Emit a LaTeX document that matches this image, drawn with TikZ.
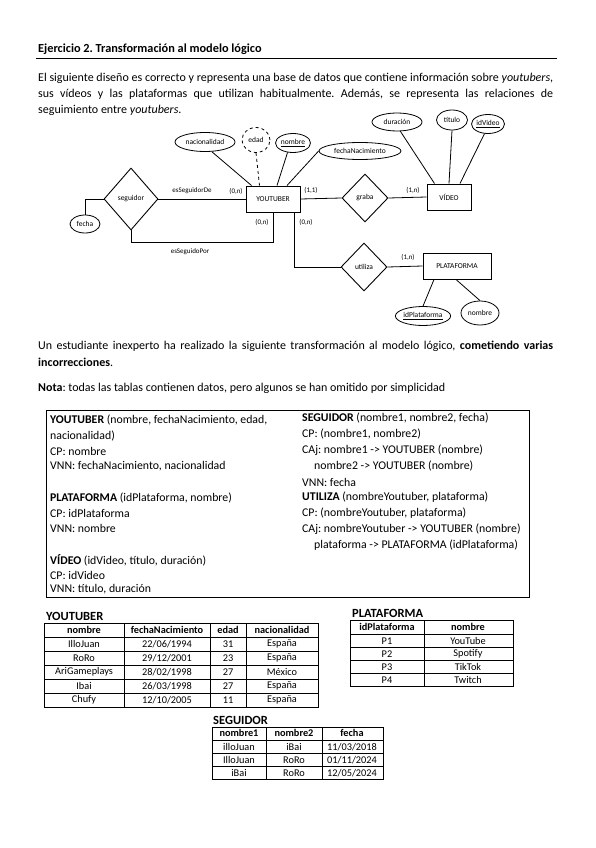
\documentclass[tikz,border=0pt]{standalone}
\usepackage{fontspec}
\setmainfont{Carlito}
\usetikzlibrary{shapes.geometric,calc}
\frenchspacing
\begin{document}
\frenchspacing
\begin{tikzpicture}[x=1pt,y=-1pt,
  txt/.style={anchor=west,inner sep=0pt,font=\fontsize{12}{14}\selectfont},
  btxt/.style={anchor=west,inner sep=0pt,font=\fontsize{11.8}{14}\selectfont},
  er/.style={font=\fontsize{7.5}{9}\selectfont},
  ent/.style={er,draw,line width=1pt,inner sep=0pt},
  rel/.style={er,draw,diamond,aspect=1,inner sep=0pt,line width=0.9pt},
  attr/.style={er,draw,ellipse,inner sep=0pt,line width=0.8pt},
  lbl/.style={font=\fontsize{7}{8}\selectfont,inner sep=0pt},
  conn/.style={line width=0.8pt},
  cell/.style={font=\fontsize{10.3}{12}\selectfont,inner sep=0pt},
  head/.style={font=\fontsize{10.3}{12}\selectfont\bfseries,inner sep=0pt},
  tlabel/.style={anchor=west,inner sep=0pt,font=\fontsize{12.5}{14}\selectfont\bfseries},
  gridline/.style={line width=0.6pt}]
\useasboundingbox (0,0) rectangle (595,848);
\fill[white] (0,0) rectangle (595,848);

% ---- title and intro
\node[txt,font=\fontsize{12.3}{14}\selectfont\bfseries] (title) at (38,49) {Ejercicio 2. Transformación al modelo lógico};
\draw[line width=0.9pt] (36,58) -- (557,58);
\node[txt] (p1) at (38,78) {\makebox[515pt][s]{El siguiente diseño es correcto y representa una base de datos que contiene información sobre \textit{youtubers},}};
\node[txt] (p2) at (38,94) {\makebox[515pt][s]{sus vídeos y las plataformas que utilizan habitualmente. Además, se representa las relaciones de}};
\node[txt] (p3) at (38,110) {seguimiento entre \textit{youtubers}.};

% ---- ER diagram
\node[ent,minimum width=54pt,minimum height=26pt] (yt) at (273,199) {YOUTUBER};
\node[ent,minimum width=44pt,minimum height=26pt] (vid) at (449,197) {VÍDEO};
\node[ent,minimum width=68pt,minimum height=26pt] (plat) at (457,266) {PLATAFORMA};
\node[rel,minimum width=54pt,minimum height=62pt] (seg) at (131,199) {seguidor};
\node[rel,minimum width=46pt,minimum height=48pt] (graba) at (365,198) {graba};
\node[rel,minimum width=46pt,minimum height=48pt] (util) at (364,267) {utiliza};

\node[attr,minimum width=30pt,minimum height=18pt] (fecha) at (85,224) {fecha};
\node[attr,minimum width=60pt,minimum height=19pt] (nac) at (205,142) {nacionalidad};
\node[attr,dashed,minimum width=28pt,minimum height=25pt] (edad) at (256,140) {edad};
\node[attr,minimum width=35pt,minimum height=19pt] (nom) at (293,143) {\underline{nombre}};
\node[attr,minimum width=82pt,minimum height=17pt] (fnac) at (360,151) {fechaNacimiento};
\node[attr,minimum width=50pt,minimum height=18pt] (dur) at (397,122) {duración};
\node[attr,minimum width=31pt,minimum height=20pt] (tit) at (452,120) {título};
\node[attr,minimum width=33pt,minimum height=19pt] (idv) at (488,124) {\underline{idVideo}};
\node[attr,minimum width=52pt,minimum height=19pt] (idp) at (423,316) {\underline{idPlataforma}};
\node[attr,minimum width=38pt,minimum height=24pt] (pnom) at (480,313) {nombre};

\draw[conn] (fecha.north) |- (seg.west);
\draw[conn] (seg.east) -- (yt.west);
\draw[conn] (seg.south) |- (273,242) -- (yt.south);
\draw[conn] ($(yt.south east)+(-6,0)$) |- (util.west);
\draw[conn] (yt.east) -- (graba.west);
\draw[conn] (graba.east) -- (vid.west);
\draw[conn] (util.east) -- (plat.west);
\draw[conn] (nac.-55) -- ($(yt.north west)+(6,0)$);
\draw[conn,dashed] (edad.south) -- ($(yt.north west)+(14,0)$);
\draw[conn] (nom.-120) -- ($(yt.north)+(4,0)$);
\draw[conn] (fnac.west) -- ($(yt.north)+(14,0)$);
\draw[conn] (dur.-70) -- ($(vid.north west)+(8,0)$);
\draw[conn] (tit.south) -- ($(vid.north)+(0,0)$);
\draw[conn] (idv.-110) -- ($(vid.north)+(11,0)$);
\draw[conn] ($(plat.south)+(-23,0)$) -- (idp.north);
\draw[conn] ($(plat.south)+(-1,0)$) -- (pnom.north);

\node[lbl] (l1) at (192,191) {esSeguidorDe};
\node[lbl] (l2) at (236,191) {(0,n)};
\node[lbl] (l3) at (311,190) {(1,1)};
\node[lbl] (l4) at (413,190) {(1,n)};
\node[lbl] (l5) at (262,222) {(0,n)};
\node[lbl] (l6) at (306,222) {(0,n)};
\node[lbl] (l7) at (190,252) {esSeguidoPor};
\node[lbl] (l8) at (408,257) {(1,n)};

% ---- second text
\node[txt] (q1) at (38,346) {\makebox[515pt][s]{Un estudiante inexperto ha realizado la siguiente transformación al modelo lógico, \textbf{cometiendo varias}}};
\node[txt] (q2) at (38,362) {\textbf{incorrecciones}.};
\node[txt] (q3) at (38,388) {\textbf{Nota}: todas las tablas contienen datos, pero algunos se han omitido por simplicidad};

% ---- logical model box
\draw[line width=0.9pt] (46,410) rectangle (529,597);
\node[btxt] (a1) at (50,420) {\textbf{YOUTUBER} (nombre, fechaNacimiento, edad,};
\node[btxt] (a2) at (50,436) {nacionalidad)};
\node[btxt] (a3) at (50,451) {CP: nombre};
\node[btxt] (a4) at (50,466) {VNN: fechaNacimiento, nacionalidad};
\node[btxt] (b1) at (50,498) {\textbf{PLATAFORMA} (idPlataforma, nombre)};
\node[btxt] (b2) at (50,513) {CP: idPlataforma};
\node[btxt] (b3) at (50,528) {VNN: nombre};
\node[btxt] (c1) at (50,560) {\textbf{VÍDEO} (idVideo, título, duración)};
\node[btxt] (c2) at (50,575) {CP: idVideo};
\node[btxt] (c3) at (50,589) {VNN: título, duración};

\node[btxt] (d1) at (302,418) {\textbf{SEGUIDOR} (nombre1, nombre2, fecha)};
\node[btxt] (d2) at (302,434) {CP: (nombre1, nombre2)};
\node[btxt] (d3) at (302,450) {CAj: nombre1 -> YOUTUBER (nombre)};
\node[btxt] (d4) at (314,466) {nombre2 -> YOUTUBER (nombre)};
\node[btxt] (d5) at (302,482) {VNN: fecha};
\node[btxt] (e1) at (302,497) {\textbf{UTILIZA} (nombreYoutuber, plataforma)};
\node[btxt] (e2) at (302,513) {CP: (nombreYoutuber, plataforma)};
\node[btxt] (e3) at (302,529) {CAj: nombreYoutuber -> YOUTUBER (nombre)};
\node[btxt] (e4) at (314,545) {plataforma -> PLATAFORMA (idPlataforma)};

% ---- YOUTUBER table
\node[tlabel] (tyt) at (46,616) {YOUTUBER};
\draw[gridline] (44,623) rectangle (318,707);
\foreach \yy in {637,651,665,679,693} \draw[gridline] (44,\yy) -- (318,\yy);
\foreach \xx in {124,210,246} \draw[gridline] (\xx,623) -- (\xx,707);
\node[head] (yh1) at (84,630) {nombre};
\node[head] (yh2) at (167,630) {fechaNacimiento};
\node[head] (yh3) at (228,630) {edad};
\node[head] (yh4) at (282,630) {nacionalidad};
\node[cell] (y11) at (84,644) {IlloJuan};
\node[cell] (y12) at (167,644) {22/06/1994};
\node[cell] (y13) at (228,644) {31};
\node[cell] (y14) at (282,644) {España};
\node[cell] (y21) at (84,658) {RoRo};
\node[cell] (y22) at (167,658) {29/12/2001};
\node[cell] (y23) at (228,658) {23};
\node[cell] (y24) at (282,658) {España};
\node[cell] (y31) at (84,672) {AriGameplays};
\node[cell] (y32) at (167,672) {28/02/1998};
\node[cell] (y33) at (228,672) {27};
\node[cell] (y34) at (282,672) {México};
\node[cell] (y41) at (84,686) {Ibai};
\node[cell] (y42) at (167,686) {26/03/1998};
\node[cell] (y43) at (228,686) {27};
\node[cell] (y44) at (282,686) {España};
\node[cell] (y51) at (84,700) {Chufy};
\node[cell] (y52) at (167,700) {12/10/2005};
\node[cell] (y53) at (228,700) {11};
\node[cell] (y54) at (282,700) {España};

% ---- PLATAFORMA table
\node[tlabel] (tpl) at (352,613) {PLATAFORMA};
\draw[gridline] (350,620) rectangle (513,686);
\foreach \yy in {634,647,660,673} \draw[gridline] (350,\yy) -- (513,\yy);
\draw[gridline] (424,620) -- (424,686);
\node[head] (ph1) at (387,627) {idPlataforma};
\node[head] (ph2) at (468,627) {nombre};
\node[cell] (p11) at (387,641) {P1};
\node[cell] (p12) at (468,641) {YouTube};
\node[cell] (p21) at (387,654) {P2};
\node[cell] (p22) at (468,654) {Spotify};
\node[cell] (p31) at (387,667) {P3};
\node[cell] (p32) at (468,667) {TikTok};
\node[cell] (p41) at (387,680) {P4};
\node[cell] (p42) at (468,680) {Twitch};

% ---- SEGUIDOR table
\node[tlabel] (tsg) at (213,720) {SEGUIDOR};
\draw[gridline] (212,727) rectangle (383,779);
\foreach \yy in {740,753,766} \draw[gridline] (212,\yy) -- (383,\yy);
\foreach \xx in {266,322} \draw[gridline] (\xx,727) -- (\xx,779);
\node[head] (sh1) at (239,733) {nombre1};
\node[head] (sh2) at (294,733) {nombre2};
\node[head] (sh3) at (352,733) {fecha};
\node[cell] (s11) at (239,747) {illoJuan};
\node[cell] (s12) at (294,747) {iBai};
\node[cell] (s13) at (352,747) {11/03/2018};
\node[cell] (s21) at (239,760) {IlloJuan};
\node[cell] (s22) at (294,760) {RoRo};
\node[cell] (s23) at (352,760) {01/11/2024};
\node[cell] (s31) at (239,773) {iBai};
\node[cell] (s32) at (294,773) {RoRo};
\node[cell] (s33) at (352,773) {12/05/2024};
\end{tikzpicture}
\end{document}
